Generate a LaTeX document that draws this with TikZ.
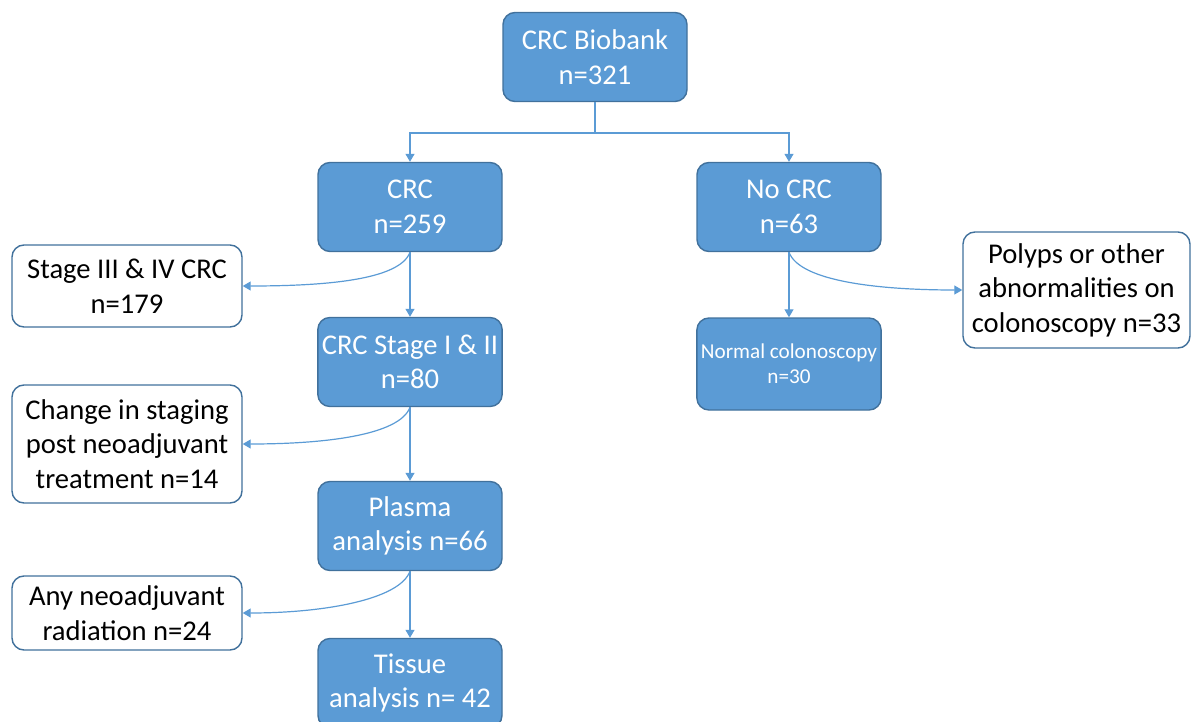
\documentclass[tikz,border=0pt]{standalone}
\usepackage{fontspec}
\setmainfont{Carlito}
\usetikzlibrary{positioning}
\usetikzlibrary{arrows.meta}

\definecolor{boxblue}{HTML}{5B9BD5}
\definecolor{boxline}{HTML}{41719C}
\definecolor{linkblue}{HTML}{5B9BD5}

\begin{document}
\begin{tikzpicture}[
    x=0.5pt, y=0.5pt,
    block/.style={rectangle, rounded corners=6pt, draw=boxline, line width=0.7pt, fill=boxblue, text=white, align=center, minimum width=92pt, minimum height=44.5pt, inner sep=2pt, font=\fontsize{14.3}{17.3}\selectfont},
    sidebox/.style={rectangle, rounded corners=6pt, draw=boxline, line width=0.7pt, fill=white, text=black, align=center, minimum width=115pt, inner sep=2pt, font=\fontsize{14.3}{17.3}\selectfont},
    link/.style={draw=linkblue, line width=0.6pt},
    flow/.style={link, -{Triangle[width=4.5pt,length=4pt]}},
    bendleft/.style={out=250, in=0, out looseness=0.45, in looseness=1.2},
    bendright/.style={out=-70, in=180, out looseness=0.45, in looseness=1.2}
]

% Page frame
\clip (0,0) rectangle (1195,-722);

% Main column
\node[block] (biobank) at (595,-57) {CRC Biobank\\n=321};
\node[block] (crc) at (410,-207) {CRC\\n=259};
\node[block] (nocrc) at (789,-207) {No CRC\\n=63};
\node[block] (early) at (410,-362) {CRC Stage I \& II\\n=80};
\node[block, minimum height=46pt, font=\fontsize{10.6}{12.5}\selectfont] (normal) at (789,-364) {Normal colonoscopy\\n=30};
\node[block] (plasma) at (410,-526) {Plasma\\analysis n=66};
\node[block] (tissue) at (410,-683) {Tissue\\analysis n= 42};

% Excluded groups
\node[sidebox, minimum height=41pt] (late) at (127,-286) {Stage III \& IV CRC\\n=179};
\node[sidebox, minimum height=59pt] (restage) at (127,-444) {Change in staging\\post neoadjuvant\\treatment n=14};
\node[sidebox, minimum height=37pt] (radiation) at (127,-613) {Any neoadjuvant\\radiation n=24};
\node[sidebox, minimum width=113.5pt, minimum height=58pt] (polyps) at (1076.5,-290) {Polyps or other\\abnormalities on\\colonoscopy n=33};

% Split below the biobank
\coordinate (split) at (595,-133);
\draw[link] (biobank) -- (split);
\draw[flow] (split) -| (crc);
\draw[flow] (split) -| (nocrc);

% Arrows down and out
\draw[flow] (crc) -- (early);
\draw[flow] (crc.south) to[bendleft] (late.east);
\draw[flow] (nocrc) -- (normal);
\draw[flow] (nocrc.south) to[bendright] (polyps.west);
\draw[flow] (early) -- (plasma);
\draw[flow] (early.south) to[bendleft] (restage.east);
\draw[flow] (plasma) -- (tissue);
\draw[flow] (plasma.south) to[bendleft] (radiation.east);

\end{tikzpicture}
\end{document}
